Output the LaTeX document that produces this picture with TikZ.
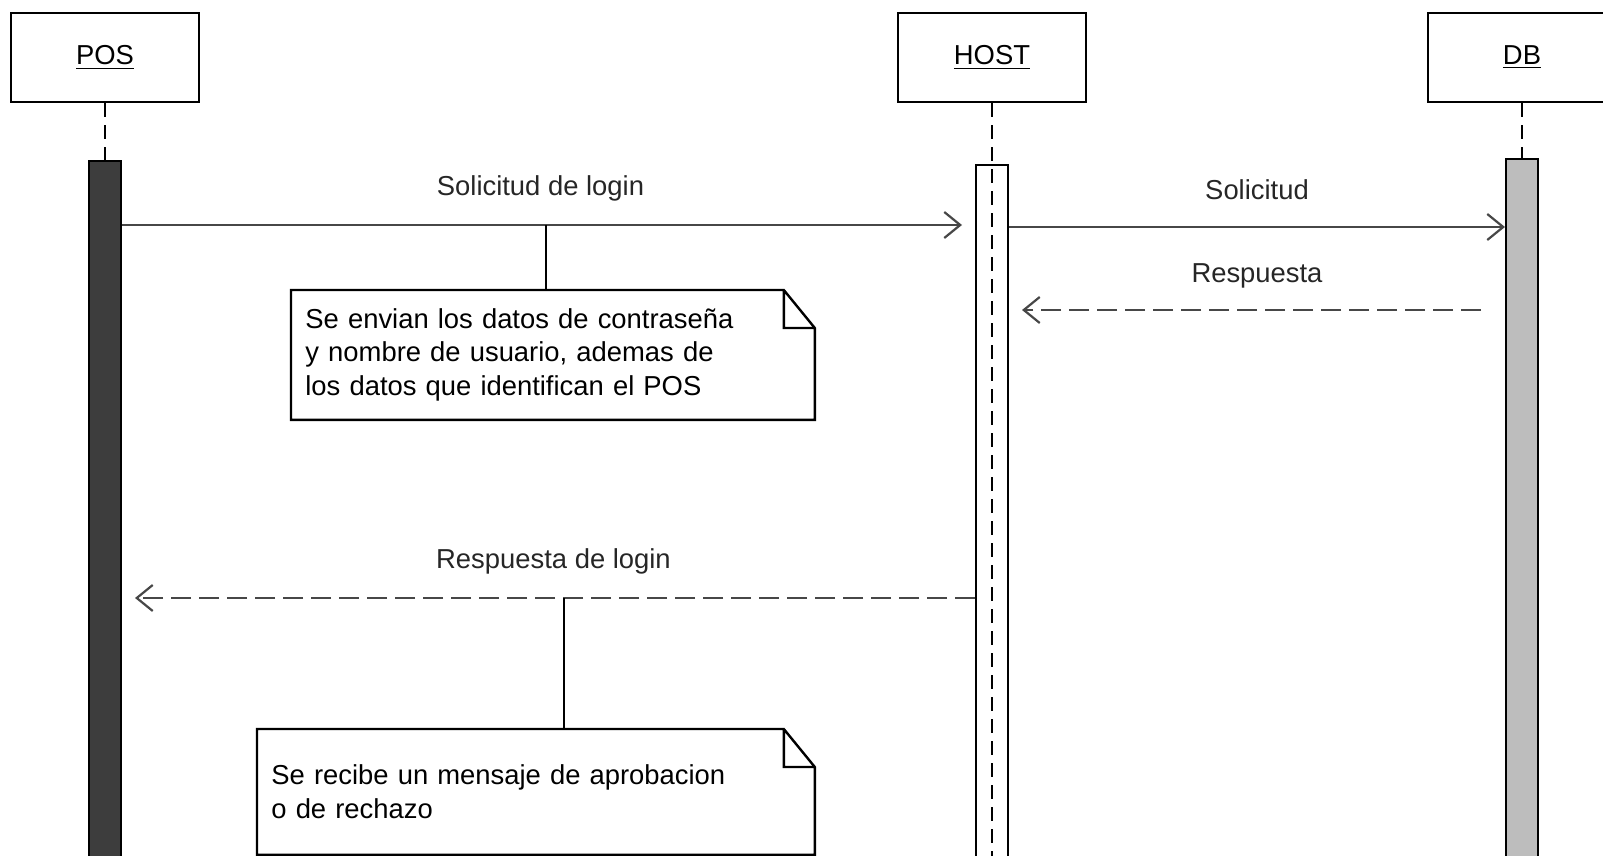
\documentclass[tikz,border=0pt]{standalone}
\usepackage{fontspec}
\setmainfont{Liberation Sans}
\usetikzlibrary{arrows.meta}

\begin{document}
\begin{tikzpicture}[x=0.5pt,y=-0.5pt,
	font=\fontsize{13.7}{16.85}\selectfont,
	head/.style={draw,line width=1.2pt,minimum width=94pt,minimum height=44.5pt,inner sep=0pt},
	bar/.style={draw,line width=1pt,minimum width=16pt,anchor=north,inner sep=0pt},
	life/.style={line width=1pt,dash pattern=on 7pt off 4pt},
	msg/.style={draw=black!72,line width=1.1pt,-{Straight Barb[length=8pt,width=13pt]}},
	reply/.style={msg,dash pattern=on 10pt off 4pt},
	notebox/.style={anchor=north west,align=left,inner xsep=7pt,inner ysep=0pt},
	lbl/.style={midway,yshift=18.5pt,text=black!85}]
\useasboundingbox (0,0) rectangle (1603,856);
\clip (0,0) rectangle (1603,856);

\node[head] (pos) at (105,57.5) {\underline{POS}};
\node[head] (host) at (992,57.5) {\underline{HOST}};
\node[head] (db) at (1522,57.5) {\underline{DB}};

\coordinate (posbot) at (105,160);
\coordinate (dbbot) at (1522,158);
\draw[life] (pos.south) -- (posbot);
\draw[life] (db.south) -- (dbbot);

\node[bar,fill=black!76,minimum height=360pt] (posbar) at (posbot) {};
\node[bar,fill=white,minimum height=360pt] (hostbar) at (992,164) {};
\node[bar,fill=black!26,minimum height=360pt] (dbbar) at (dbbot) {};
\draw[life] (host.south) -- (hostbar.south);

\coordinate (m1) at (0,225);
\coordinate (m2) at (0,227);
\coordinate (m3) at (0,310);
\coordinate (m4) at (0,598);
\draw[msg,shorten >=6.5pt] (posbar.east |- m1) -- node[lbl,xshift=-4pt] (l1) {Solicitud de login} (hostbar.west |- m1);
\draw[msg] (hostbar.east |- m2) -- node[lbl] (l2) {Solicitud} (dbbar.west |- m2);
\draw[reply,shorten <=12pt,shorten >=6.5pt] (dbbar.west |- m3) -- node[lbl,yshift=-1.5pt] (l3) {Respuesta} (hostbar.east |- m3);
\draw[reply,shorten >=6.5pt] (hostbar.west |- m4) -- node[lbl,xshift=2.5pt] (l4) {Respuesta de login} (posbar.east |- m4);

\node[notebox,text width=247.5pt,minimum height=64.5pt] (note1) at (291,290)
	{Se envian los datos de contraseña\\y nombre de usuario, ademas de\\los datos que identifican el POS};
\node[notebox,text width=264.5pt,minimum height=62.5pt] (note2) at (257,729)
	{Se recibe un mensaje de aprobacion\\o de rechazo};
\foreach \n in {note1,note2}
	\draw[line width=1.2pt] (\n.north west) -- ([xshift=-15.5pt]\n.north east) -- ([yshift=-19pt]\n.north east)
		-- (\n.south east) -- (\n.south west) -- cycle
		([xshift=-15.5pt]\n.north east) |- ([yshift=-19pt]\n.north east);

\coordinate (c1) at (546,225);
\coordinate (c2) at (564,598);
\draw[line width=1pt] (c1) -- (c1 |- note1.north);
\draw[line width=1pt] (c2) -- (c2 |- note2.north);
\end{tikzpicture}
\end{document}
